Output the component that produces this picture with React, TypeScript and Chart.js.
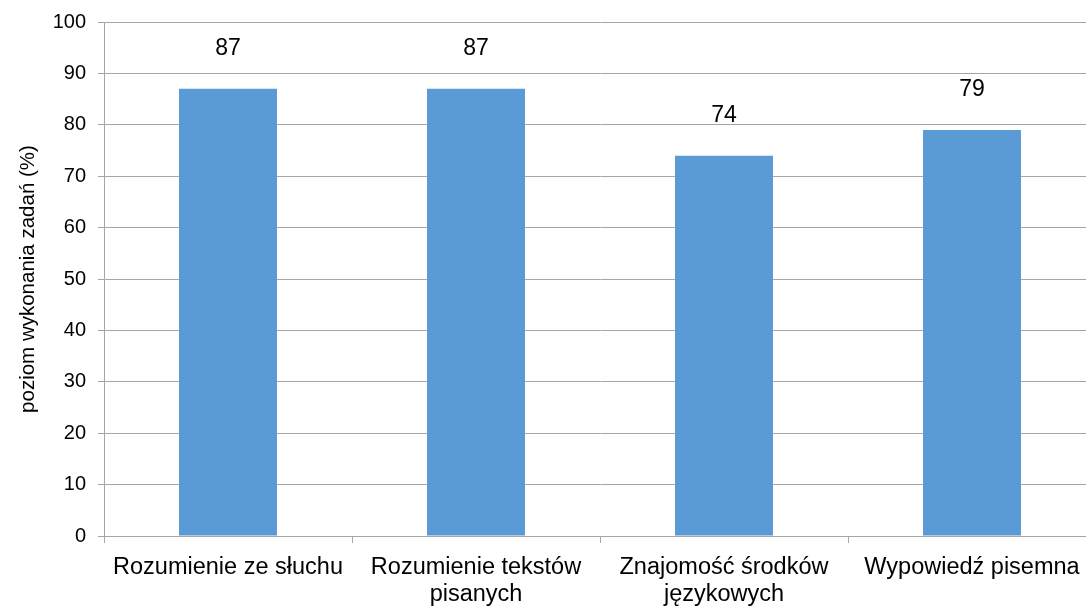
import React, { useEffect, useRef } from "react";
import { Chart, registerables } from "chart.js";

Chart.register(...registerables);

const categories: (string | string[])[] = [
  "Rozumienie ze słuchu",
  ["Rozumienie tekstów", "pisanych"],
  ["Znajomość środków", "językowych"],
  "Wypowiedź pisemna",
];
const values: number[] = [87, 87, 74, 79];
const yTitle = "poziom wykonania zadań (%)";

const GRID = "#a6a6a6";
const FONT = "'Liberation Sans', Arial, sans-serif";

const valueLabels = {
  id: "valueLabels",
  afterDatasetsDraw(chart: any) {
    const ctx = chart.ctx;
    const meta = chart.getDatasetMeta(0);
    ctx.save();
    ctx.font = `23px ${FONT}`;
    ctx.fillStyle = "#000";
    ctx.textAlign = "center";
    ctx.textBaseline = "middle";
    meta.data.forEach((bar: any, i: number) => {
      ctx.fillText(String(values[i]), bar.x, bar.y - 40);
    });
    ctx.restore();
  },
};

export default function App() {
  const ref = useRef<HTMLCanvasElement | null>(null);
  useEffect(() => {
    if (!ref.current) return;
    const chart = new Chart(ref.current, {
      type: "bar",
      data: {
        labels: categories,
        datasets: [
          {
            data: values,
            backgroundColor: "#5b9bd5",
            borderWidth: 0,
            barPercentage: 0.395,
            categoryPercentage: 1,
          },
        ],
      },
      options: {
        animation: false,
        responsive: false,
        devicePixelRatio: 1,
        layout: { padding: { top: 22, right: 4, left: 0, bottom: 0 } },
        plugins: { legend: { display: false }, tooltip: { enabled: false } },
        scales: {
          x: {
            offset: true,
            grid: {
              offset: true,
              drawOnChartArea: false,
              drawTicks: true,
              tickLength: 7,
              color: GRID,
            },
            border: { display: true, color: GRID, width: 1 },
            ticks: {
              color: "#000",
              font: { family: FONT, size: 23.5, lineHeight: 1.15 },
              padding: 11,
              maxRotation: 0,
              autoSkip: false,
            },
            afterFit: (s: any) => {
              s.height = 71;
            },
          },
          y: {
            min: 0,
            max: 100,
            ticks: {
              stepSize: 10,
              color: "#000",
              font: { family: FONT, size: 20, lineHeight: 1 },
              padding: 12,
            },
            grid: { color: GRID, tickLength: 6, lineWidth: 1 },
            border: { display: true, color: GRID, width: 1 },
            title: {
              display: true,
              text: yTitle,
              color: "#000",
              font: { family: FONT, size: 20.5 },
              padding: { top: 16, bottom: 0 },
            },
            afterFit: (s: any) => {
              s.width = 104;
            },
          },
        },
      },
      plugins: [valueLabels],
    });
    return () => chart.destroy();
  }, []);
  return (
    <div
      style={{
        position: "absolute",
        left: 0,
        top: 0,
        width: 1086,
        height: 607,
        overflow: "hidden",
        background: "#fff",
      }}
    >
      <canvas ref={ref} width={1100} height={607} />
    </div>
  );
}
